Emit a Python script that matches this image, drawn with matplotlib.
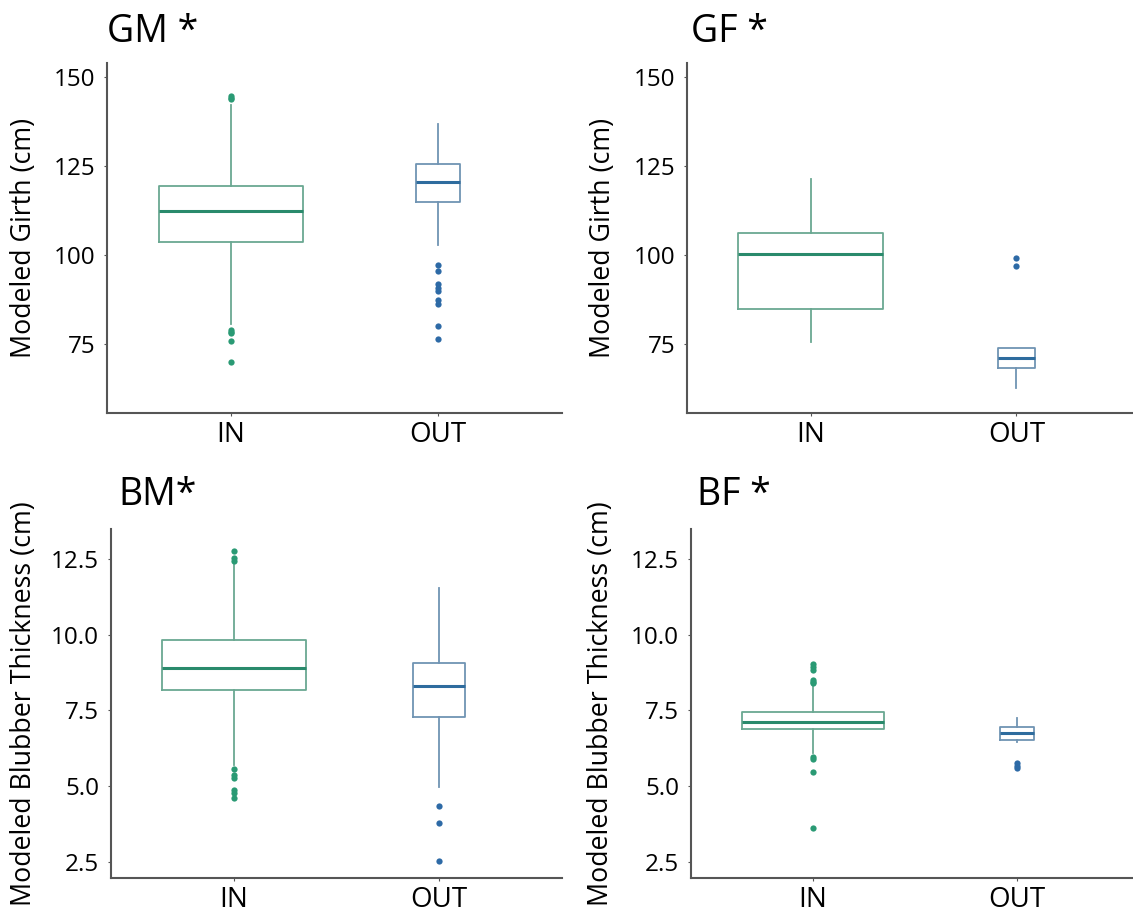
import matplotlib
matplotlib.use("Agg")
import matplotlib.pyplot as plt

plt.rcParams['font.family'] = ['Open Sans', 'DejaVu Sans']

groups = ["IN", "OUT"]
panel_titles = ["GM *", "GF *", "BM*", "BF *"]
panel_ylabels = ["Modeled Girth (cm)", "Modeled Girth (cm)",
                 "Modeled Blubber Thickness (cm)", "Modeled Blubber Thickness (cm)"]

# summary stats per panel: [IN, OUT] -> (whislo, q1, med, q3, whishi)
gm_stats = [(80.8, 103.8, 112.4, 119.4, 142.0), (102.8, 115.0, 120.6, 125.5, 136.9)]
gf_stats = [(75.5, 85.0, 100.2, 106.3, 121.3), (62.6, 68.2, 71.0, 74.0, 74.0)]
bm_stats = [(5.7, 8.16, 8.90, 9.84, 12.3), (4.97, 7.28, 8.30, 9.07, 11.54)]
bf_stats = [(6.1, 6.90, 7.12, 7.46, 8.3), (6.45, 6.53, 6.77, 6.96, 7.24)]

gm_fliers = [[144.7, 144.2, 143.7, 79.0, 78.5, 78.1, 75.9, 70.1],
             [97.2, 95.5, 91.9, 90.9, 90.0, 87.4, 86.3, 80.0, 76.6]]
gf_fliers = [[], [99.1, 96.9]]
bm_fliers = [[12.77, 12.52, 12.45, 5.58, 5.38, 5.27, 4.86, 4.78, 4.6],
             [4.34, 3.77, 2.52]]
bf_fliers = [[9.05, 8.95, 8.84, 8.52, 8.45, 8.4, 5.96, 5.9, 5.48, 3.63],
             [5.77, 5.68, 5.6]]

all_stats = [gm_stats, gf_stats, bm_stats, bf_stats]
all_fliers = [gm_fliers, gf_fliers, bm_fliers, bf_fliers]

# box widths follow group sizes (varwidth)
box_widths = [[0.70, 0.21], [0.70, 0.18], [0.70, 0.25], [0.70, 0.17]]

girth_ticks = [75, 100, 125, 150]
blubber_ticks = [2.5, 5.0, 7.5, 10.0, 12.5]
all_ticks = [girth_ticks, girth_ticks, blubber_ticks, blubber_ticks]
all_ylims = [(55.7, 153.9), (55.7, 153.9), (1.97, 13.49), (1.97, 13.49)]

outline_cols = ["#6aa892", "#7094b3"]
median_cols = ["#2a8a6c", "#2e6c9e"]
flier_cols = ["#2a9a74", "#2d6aa6"]

W, H = 1133, 913
fig = plt.figure(figsize=(W / 100, H / 100), dpi=100)

# axes boxes in pixels: left, top, right, bottom
ax_px = [(107, 63, 562, 413), (687, 63, 1140, 413),
         (111, 529, 562, 878), (691, 529, 1139, 878)]
title_px = [(107, 42), (691, 42), (118, 505), (697, 505)]
ylabel_x = [38, 617, 38, 615]

for i in range(4):
    l, t, r, b = ax_px[i]
    ax = fig.add_axes([l / W, 1 - b / H, (r - l) / W, (b - t) / H])
    stats = []
    for j, g in enumerate(groups):
        lo, q1, med, q3, hi = all_stats[i][j]
        stats.append(dict(label=g, whislo=lo, q1=q1, med=med, q3=q3,
                          whishi=hi, fliers=all_fliers[i][j]))
    for j in range(2):
        ax.bxp([stats[j]], positions=[j + 1], widths=box_widths[i][j],
               showcaps=False, showfliers=True,
               boxprops=dict(color=outline_cols[j], linewidth=1.3),
               whiskerprops=dict(color=outline_cols[j], linewidth=1.3),
               medianprops=dict(color=median_cols[j], linewidth=2.2),
               flierprops=dict(marker='o', markersize=4.5, markerfacecolor=flier_cols[j],
                               markeredgecolor='none'))
    ax.set_xlim(0.4, 2.6)
    ax.set_ylim(*all_ylims[i])
    ax.set_xticks([1, 2])
    ax.set_xticklabels(groups)
    ax.set_yticks(all_ticks[i])
    if i >= 2:
        ax.set_yticklabels([f"{v:.1f}" for v in all_ticks[i]])
    ax.tick_params(axis='both', colors='#555555', length=2.5, width=0.8,
                   labelcolor='black')
    ax.tick_params(axis='y', labelsize=17.5, pad=6)
    ax.tick_params(axis='x', labelsize=20, pad=3.5)
    for s in ['top', 'right']:
        ax.spines[s].set_visible(False)
    for s in ['left', 'bottom']:
        ax.spines[s].set_color('#555555')
        ax.spines[s].set_linewidth(1.5)
    ax.set_ylabel(panel_ylabels[i], fontsize=19.3)
    ax.yaxis.set_label_coords((ylabel_x[i] - l) / (r - l), 0.5)
    tx, ty = title_px[i]
    fig.text(tx / W, 1 - ty / H, panel_titles[i], fontsize=27, va='baseline', ha='left')

fig.savefig("out.png", dpi=100)
